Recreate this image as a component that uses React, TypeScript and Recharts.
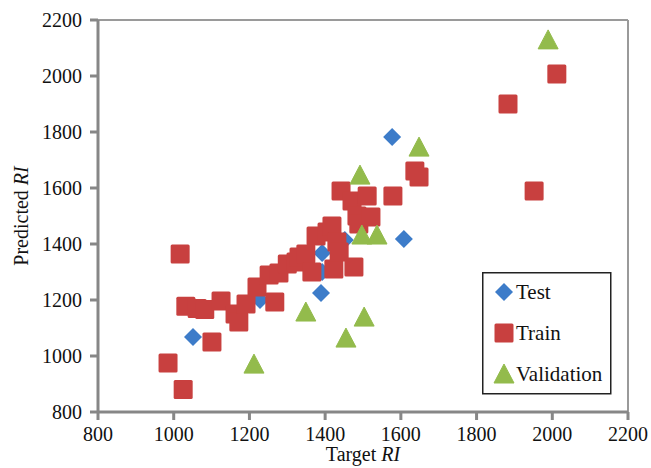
import React from "react";
import {
	ScatterChart,
	Scatter,
	XAxis,
	YAxis,
	ReferenceLine,
	Legend,
} from "recharts";

// points (Target RI, Predicted RI)
const testPoints = [
	{ x: 1051, y: 1068 },
	{ x: 1228, y: 1200 },
	{ x: 1389, y: 1225 },
	{ x: 1392, y: 1300 },
	{ x: 1392, y: 1368 },
	{ x: 1452, y: 1414 },
	{ x: 1608, y: 1418 },
	{ x: 1577, y: 1782 },
];

const trainPoints = [
	{ x: 985, y: 975 },
	{ x: 1025, y: 880 },
	{ x: 1017, y: 1364 },
	{ x: 1032, y: 1178 },
	{ x: 1062, y: 1170 },
	{ x: 1082, y: 1166 },
	{ x: 1101, y: 1050 },
	{ x: 1125, y: 1196 },
	{ x: 1162, y: 1150 },
	{ x: 1172, y: 1121 },
	{ x: 1191, y: 1186 },
	{ x: 1220, y: 1246 },
	{ x: 1252, y: 1289 },
	{ x: 1267, y: 1193 },
	{ x: 1278, y: 1296 },
	{ x: 1300, y: 1329 },
	{ x: 1323, y: 1336 },
	{ x: 1331, y: 1354 },
	{ x: 1349, y: 1364 },
	{ x: 1365, y: 1300 },
	{ x: 1376, y: 1429 },
	{ x: 1405, y: 1443 },
	{ x: 1418, y: 1464 },
	{ x: 1423, y: 1311 },
	{ x: 1431, y: 1407 },
	{ x: 1437, y: 1371 },
	{ x: 1442, y: 1589 },
	{ x: 1471, y: 1554 },
	{ x: 1476, y: 1318 },
	{ x: 1484, y: 1500 },
	{ x: 1489, y: 1471 },
	{ x: 1511, y: 1571 },
	{ x: 1521, y: 1496 },
	{ x: 1579, y: 1571 },
	{ x: 1637, y: 1661 },
	{ x: 1648, y: 1639 },
	{ x: 1883, y: 1900 },
	{ x: 1952, y: 1589 },
	{ x: 2012, y: 2007 },
];

const validationPoints = [
	{ x: 1212, y: 971 },
	{ x: 1349, y: 1157 },
	{ x: 1455, y: 1064 },
	{ x: 1503, y: 1139 },
	{ x: 1497, y: 1432 },
	{ x: 1537, y: 1432 },
	{ x: 1492, y: 1646 },
	{ x: 1648, y: 1746 },
	{ x: 1989, y: 2129 },
];

const axisTicks = [800, 1000, 1200, 1400, 1600, 1800, 2000, 2200];

const BLUE = "#3d7cc9";
const RED = "#c8403f";
const GREEN = "#93bb4c";
const AXIS = "#878787";
const FONT = "Liberation Serif";

const Diamond = ({ cx, cy, fill }: any) => (
	<path
		d={`M${cx},${cy - 9} L${cx + 9},${cy} L${cx},${cy + 9} L${cx - 9},${cy} Z`}
		fill={fill}
	/>
);

const Square = ({ cx, cy, fill }: any) => (
	<rect x={cx - 9.5} y={cy - 9.5} width={19} height={19} rx={1.5} fill={fill} />
);

const Triangle = ({ cx, cy, fill }: any) => (
	<path
		d={`M${cx},${cy - 10} L${cx + 10},${cy + 9} L${cx - 10},${cy + 9} Z`}
		fill={fill}
		strokeLinejoin="round"
		stroke={fill}
		strokeWidth={1}
	/>
);

const legendItems = [
	{ name: "Test", color: BLUE, shape: "diamond" },
	{ name: "Train", color: RED, shape: "square" },
	{ name: "Validation", color: GREEN, shape: "triangle" },
];

// legend drawn as svg so the serif font is applied the same way as the axis labels
const LegendBox = () => (
	<svg width={130} height={123} style={{ display: "block" }}>
		<rect x={0.75} y={0.75} width={128} height={121} fill="#fff" stroke="#222" strokeWidth={1.5} />
		{legendItems.map((item, i) => {
			const cy = 20 + i * 41;
			return (
				<g key={item.name}>
					{item.shape === "diamond" && <Diamond cx={22} cy={cy} fill={item.color} />}
					{item.shape === "square" && <Square cx={22} cy={cy} fill={item.color} />}
					{item.shape === "triangle" && <Triangle cx={22} cy={cy} fill={item.color} />}
					<text x={34} y={cy + 7} fontFamily={FONT} fontSize={21} fill="#111">
						{item.name}
					</text>
				</g>
			);
		})}
	</svg>
);

const XTick = ({ x, y, payload }: any) => (
	<text x={x} y={y} dy={14} textAnchor="middle" fontFamily={FONT} fontSize={20} fill="#111">
		{payload.value}
	</text>
);

const YTick = ({ x, y, payload }: any) => (
	<text x={x} y={y} dy={7} textAnchor="end" fontFamily={FONT} fontSize={20} fill="#111">
		{payload.value}
	</text>
);

const YLabel = ({ viewBox }: any) => {
	const cy = viewBox.y + viewBox.height / 2;
	return (
		<text
			x={28}
			y={cy}
			transform={`rotate(-90, 28, ${cy})`}
			textAnchor="middle"
			fontFamily={FONT}
			fontSize={20}
			fill="#111"
		>
			Predicted <tspan fontStyle="italic">RI</tspan>
		</text>
	);
};

const XLabel = ({ viewBox }: any) => {
	const cx = viewBox.x + viewBox.width / 2;
	return (
		<text x={cx} y={461} textAnchor="middle" fontFamily={FONT} fontSize={20} fill="#111">
			Target <tspan fontStyle="italic">RI</tspan>
		</text>
	);
};

export default function App() {
	return (
		<div style={{ position: "absolute", left: 0, top: 0, background: "#fff" }}>
			<ScatterChart
				width={651}
				height={468}
				margin={{ top: 20, right: 23, bottom: 0, left: 28 }}
			>
				<XAxis
					type="number"
					dataKey="x"
					domain={[800, 2200]}
					ticks={axisTicks}
					allowDataOverflow
					height={56}
					stroke={AXIS}
					strokeWidth={3}
					tickSize={8}
					tickMargin={7}
					tick={<XTick />}
					tickLine={{ stroke: AXIS, strokeWidth: 3 }}
					label={<XLabel />}
				/>
				<YAxis
					type="number"
					dataKey="y"
					domain={[800, 2200]}
					ticks={axisTicks}
					allowDataOverflow
					width={70}
					stroke={AXIS}
					strokeWidth={3}
					tickSize={8}
					tickMargin={8}
					tick={<YTick />}
					tickLine={{ stroke: AXIS, strokeWidth: 3 }}
					label={<YLabel />}
				/>
				<ReferenceLine y={2200} stroke="#9a9a9a" strokeWidth={2} />
				<ReferenceLine x={2200} stroke="#9a9a9a" strokeWidth={2} />
				<Scatter
					name="Test"
					data={testPoints}
					fill={BLUE}
					shape={<Diamond />}
					isAnimationActive={false}
				/>
				<Scatter
					name="Train"
					data={trainPoints}
					fill={RED}
					shape={<Square />}
					isAnimationActive={false}
				/>
				<Scatter
					name="Validation"
					data={validationPoints}
					fill={GREEN}
					shape={<Triangle />}
					isAnimationActive={false}
				/>
				<Legend
					layout="vertical"
					align="center"
					verticalAlign="middle"
					content={<LegendBox />}
					wrapperStyle={{ position: "absolute", left: 482, top: 272, width: 130 }}
				/>
			</ScatterChart>
		</div>
	);
}
